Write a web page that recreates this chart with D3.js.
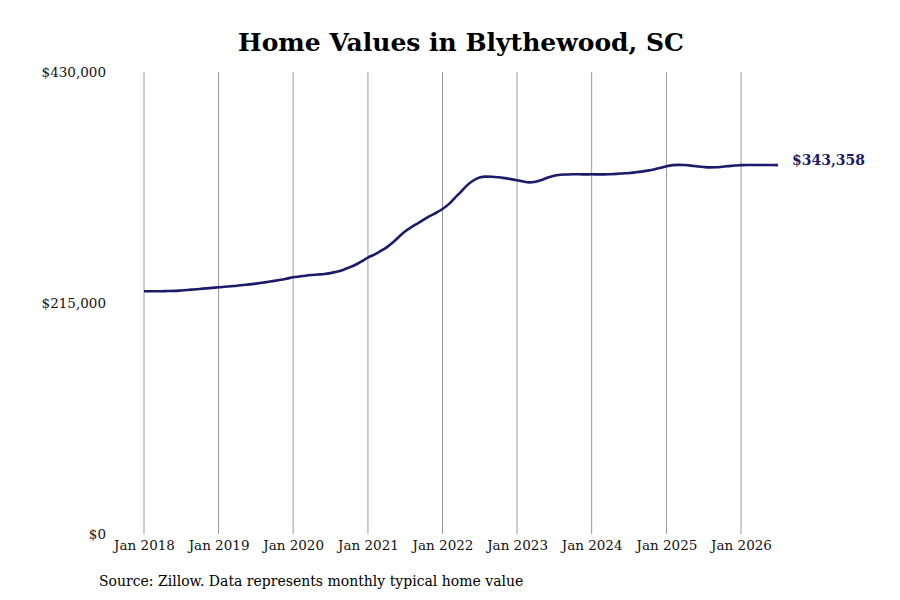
<!DOCTYPE html>
<html>
<head>
<meta charset="utf-8">
<script src="https://cdn.jsdelivr.net/npm/d3@7"></script>
<style>
  body { margin: 0; background: #fff; }
  text { font-family: "DejaVu Serif", serif; }
</style>
</head>
<body>
<script>
// monthly typical home value, Jan 2018 .. Jul 2026 (values in $1000s)
var values2018 = [226.0, 225.9, 225.9, 226.0, 226.1, 226.3, 226.7, 227.1, 227.6, 228.1, 228.6, 229.1];
var values2019 = [229.6, 230.1, 230.6, 231.1, 231.7, 232.3, 233.0, 233.8, 234.7, 235.6, 236.6, 237.7];
var values2020 = [238.9, 239.7, 240.4, 241.0, 241.5, 242.0, 242.8, 244.0, 245.8, 248.0, 250.6, 253.8];
var values2021 = [257.3, 260.0, 263.0, 266.5, 271.0, 276.5, 281.5, 285.5, 289.0, 292.5, 296.0, 299.0];
var values2022 = [302.5, 307.0, 312.5, 318.5, 324.5, 329.0, 331.8, 332.6, 332.5, 332.0, 331.2, 330.3];
var values2023 = [329.3, 328.0, 327.3, 327.8, 329.5, 331.8, 333.5, 334.3, 334.6, 334.8, 334.8, 334.7];
var values2024 = [334.8, 334.7, 334.7, 334.9, 335.2, 335.6, 336.0, 336.6, 337.3, 338.2, 339.3, 340.7];
var values2025 = [342.3, 343.3, 343.6, 343.4, 342.9, 342.2, 341.6, 341.2, 341.3, 341.8, 342.4, 343.0];
var values2026 = [343.3, 343.5, 343.5, 343.4, 343.4, 343.4, 343.358];

var yTicks = [0, 215000, 430000];
var xTickYears = [2018, 2019, 2020, 2021, 2022, 2023, 2024, 2025, 2026];
var lastLabel = "$343,358";

var w = 900, h = 600;
var svg = d3.select("body").append("svg")
  .attr("width", w)
  .attr("height", h);

var series = [].concat(values2018, values2019, values2020, values2021, values2022,
                       values2023, values2024, values2025, values2026);
var data = series.map(function(v, i) {
  return { date: new Date(2018, i, 1), value: v * 1000 };
});

var xScale = d3.scaleTime()
  .domain([new Date(2018, 0, 1), new Date(2026, 0, 1)])
  .range([144, 741]);
var yScale = d3.scaleLinear()
  .domain([0, 430000])
  .range([534, 72]);

// vertical grid lines at each January
svg.append("g")
  .selectAll("line")
  .data(xTickYears)
  .enter()
  .append("line")
  .attr("x1", function(d) { return xScale(new Date(d, 0, 1)); })
  .attr("x2", function(d) { return xScale(new Date(d, 0, 1)); })
  .attr("y1", yScale(430000))
  .attr("y2", yScale(0))
  .attr("stroke", "#9a9a9a")
  .attr("stroke-width", 1);

// x tick labels
var xAxis = d3.axisBottom(xScale)
  .tickValues(xTickYears.map(function(d) { return new Date(d, 0, 1); }))
  .tickFormat(d3.timeFormat("Jan %Y"))
  .tickSize(0)
  .tickPadding(0);
var gx = svg.append("g")
  .attr("transform", "translate(0,540)")
  .call(xAxis);
gx.select(".domain").remove();
gx.selectAll("text")
  .attr("dy", "0.71em")
  .style("font-family", "DejaVu Serif")
  .style("font-size", "13.5px")
  .attr("fill", "#111");

// y tick labels
var yAxis = d3.axisLeft(yScale)
  .tickValues(yTicks)
  .tickFormat(function(d) { return "$" + d3.format(",")(d); })
  .tickSize(0)
  .tickPadding(0);
var gy = svg.append("g")
  .attr("transform", "translate(106,0)")
  .call(yAxis);
gy.select(".domain").remove();
gy.selectAll("text")
  .style("font-family", "DejaVu Serif")
  .style("font-size", "13.5px")
  .attr("fill", "#111");

// the line
var line = d3.line()
  .x(function(d) { return xScale(d.date); })
  .y(function(d) { return yScale(d.value); })
  .curve(d3.curveMonotoneX);

svg.append("path")
  .datum(data)
  .attr("fill", "none")
  .attr("stroke", "#1b1a6b")
  .attr("stroke-width", 2.6)
  .attr("stroke-linejoin", "round")
  .attr("d", line);

// end label
var last = data[data.length - 1];
svg.append("text")
  .attr("x", xScale(last.date) + 14)
  .attr("y", yScale(last.value) - 5)
  .attr("dy", "0.35em")
  .style("font-size", "14px")
  .style("font-weight", "bold")
  .attr("fill", "#1b1a6b")
  .text(lastLabel);

// title
svg.append("text")
  .attr("x", 461)
  .attr("y", 51)
  .attr("text-anchor", "middle")
  .style("font-size", "25px")
  .style("font-weight", "bold")
  .attr("fill", "#000")
  .text("Home Values in Blythewood, SC");

// source note
svg.append("text")
  .attr("x", 99)
  .attr("y", 586)
  .style("font-size", "14px")
  .attr("fill", "#000")
  .text("Source: Zillow. Data represents monthly typical home value");
</script>
</body>
</html>
